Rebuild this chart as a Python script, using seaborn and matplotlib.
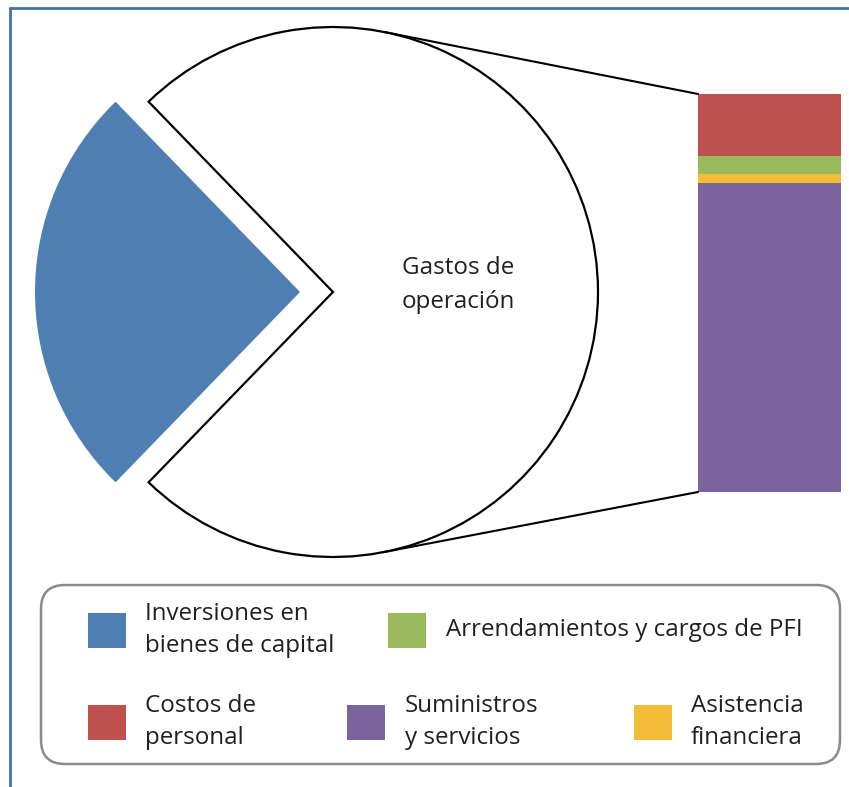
import matplotlib.pyplot as plt
import numpy as np
import seaborn as sns
from matplotlib.lines import Line2D
from matplotlib.patches import ConnectionPatch, FancyBboxPatch, Rectangle

# pie: share of total spending
pie_labels = ["Inversiones en\nbienes de capital", "Gastos de\noperación"]
pie_values = [25.5, 74.5]

# bar: breakdown of "Gastos de operación" (bottom to top)
bar_labels = ["Suministros\ny servicios", "Asistencia\nfinanciera",
              "Arrendamientos y cargos de PFI", "Costos de\npersonal"]
bar_values = [77.6, 2.4, 4.3, 15.7]

blue = "#4f7fb2"
bar_colors = ["#7a649b", "#f4bd38", "#9bba5d", "#bf524e"]
text_color = "#231f20"

sns.set_theme(style="white")
plt.rcParams["font.family"] = ["Open Sans", "DejaVu Sans"]

W, H = 849, 787
fig = plt.figure(figsize=(W / 100, H / 100), dpi=100)
ax = fig.add_axes([0, 0, 1, 1])


def py(y):
    # image row -> axes y
    return H - y


cx, cy, r = 333, py(292), 265
start = 180 - pie_values[0] / sum(pie_values) * 180
wedges, _ = ax.pie(pie_values, colors=[blue, "white"], startangle=start,
                   explode=[33, 0], center=(cx, cy), radius=r,
                   wedgeprops=dict(linewidth=0), frame=False)
wedges[1].set_edgecolor("black")
wedges[1].set_linewidth(1.6)
ax.set_xlim(0, W)
ax.set_ylim(0, H)
ax.set_aspect("auto")
ax.axis("off")

ax.text(458, py(285), pie_labels[1], ha="center", va="center",
        fontsize=17.4, color=text_color, linespacing=1.5)

# stacked bar on its own axes
bax = fig.add_axes([698 / W, py(492) / H, 143 / W, 398 / H])
bottom = 0
for v, c in zip(bar_values, bar_colors):
    bax.bar(0, v, bottom=bottom, width=1, color=c, linewidth=0)
    bottom += v
bax.set_xlim(-0.5, 0.5)
bax.set_ylim(0, sum(bar_values))
bax.axis("off")

# tangent lines from the pie to the bar corners
for corner_y in [sum(bar_values), 0]:
    px, pyy = bax.transData.transform((-0.5, corner_y))
    px, pyy = ax.transData.inverted().transform((px, pyy))
    dx, dy = px - cx, pyy - cy
    d = np.hypot(dx, dy)
    base = np.arctan2(dy, dx)
    off = np.arccos(r / d)
    ang = base + off if dy > 0 else base - off
    tx, ty = cx + r * np.cos(ang), cy + r * np.sin(ang)
    con = ConnectionPatch(xyA=(tx, ty), xyB=(-0.5, corner_y),
                          coordsA=ax.transData, coordsB=bax.transData,
                          color="black", lw=1.5)
    fig.add_artist(con)

# outer frame (left and top only)
fig.add_artist(Line2D([10 / W, 10 / W], [0, 1 - 8 / H], transform=fig.transFigure,
                      color="#3c74ad", lw=2))
fig.add_artist(Line2D([10 / W, 1], [1 - 8 / H, 1 - 8 / H], transform=fig.transFigure,
                      color="#3c74ad", lw=2))

# legend box
box = FancyBboxPatch((41, py(764)), 799, 179,
                     boxstyle="round,pad=0,rounding_size=24",
                     facecolor="white", edgecolor="#8a8a8a", lw=1.8)
ax.add_patch(box)

legend_items = [
    (blue, pie_labels[0], 88, 630, 145),
    (bar_colors[2], bar_labels[2], 388, 630, 446),
    (bar_colors[3], bar_labels[3], 88, 722, 145),
    (bar_colors[0], bar_labels[0], 347, 722, 405),
    (bar_colors[1], bar_labels[1], 634, 722, 691),
]
for color, label, sx, yc, tx in legend_items:
    ax.add_patch(Rectangle((sx, py(yc) - 17.5), 38, 35, facecolor=color, lw=0))
    ax.text(tx, py(yc), label, ha="left", va="center", fontsize=17.4,
            color=text_color, linespacing=1.42)

fig.savefig("out.png", dpi=100)
